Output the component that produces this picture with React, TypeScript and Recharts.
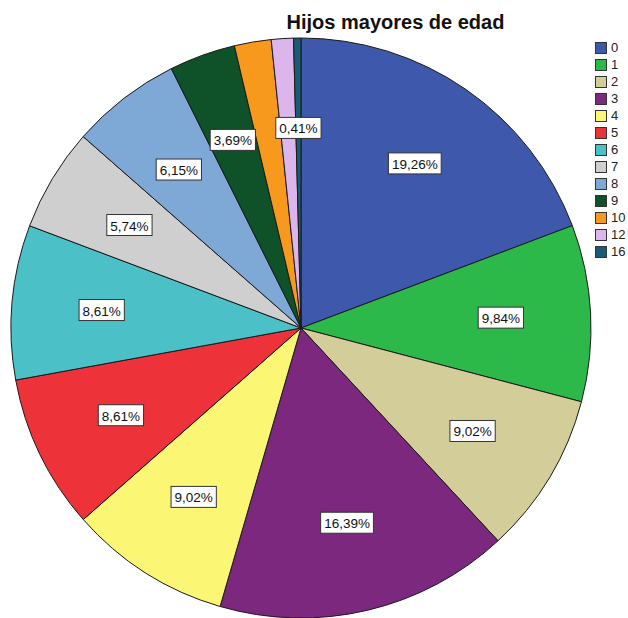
import { Legend, Pie, PieChart } from "recharts";

const categories = ["0", "1", "2", "3", "4", "5", "6", "7", "8", "9", "10", "12", "16"];
const percents = [19.26, 9.84, 9.02, 16.39, 9.02, 8.61, 8.61, 5.74, 6.15, 3.69, 2.05, 1.23, 0.41];
const colors = [
  "#3e58ac",
  "#2db94a",
  "#d3cd99",
  "#7b287e",
  "#fbf674",
  "#ee3239",
  "#4bc1c7",
  "#cfcfcf",
  "#7ea8d6",
  "#0f5128",
  "#f7991d",
  "#ddb5ed",
  "#1b5a74",
];
// SPSS left these two slices without a label
const unlabeled = ["10", "12"];

const RADIAN = Math.PI / 180;
const FONT = "Arial, 'Liberation Sans', sans-serif";

function formatPct(v: number): string {
  return v.toFixed(2).replace(".", ",") + "%";
}

function textWidth(s: string, fs: number): number {
  let w = 0;
  for (const ch of s) {
    if (ch === ",") w += 0.278 * fs;
    else if (ch === "%") w += 0.889 * fs;
    else w += 0.556 * fs;
  }
  return w;
}

function renderLabel(props: any) {
  const { cx, cy, midAngle, outerRadius, index } = props;
  if (unlabeled.includes(categories[index])) return null;
  const r = outerRadius * 0.69;
  const x = cx + r * Math.cos(-midAngle * RADIAN);
  const y = cy + r * Math.sin(-midAngle * RADIAN);
  const text = formatPct(percents[index]);
  const w = textWidth(text, 13.5) + 7;
  const h = 21;
  return (
    <g key={`lbl-${index}`}>
      <rect x={x - w / 2} y={y - h / 2} width={w} height={h} fill="#fff" stroke="#333" strokeWidth={1} />
      <text
        x={x}
        y={y + 1}
        textAnchor="middle"
        dominantBaseline="central"
        fontSize={13.5}
        fontFamily={FONT}
        fill="#111"
      >
        {text}
      </text>
    </g>
  );
}

function LegendBox() {
  return (
    <div style={{ fontFamily: FONT, fontSize: 13, color: "#222" }}>
      {categories.map((c, i) => (
        <div key={c} style={{ display: "flex", alignItems: "center", height: 17 }}>
          <span
            style={{
              display: "inline-block",
              width: 10,
              height: 10,
              background: colors[i],
              border: "1px solid #333",
              marginRight: 4,
            }}
          />
          <span>{c}</span>
        </div>
      ))}
    </div>
  );
}

export default function App() {
  const data = categories.map((c, i) => ({ name: c, value: percents[i], fill: colors[i] }));
  return (
    <div style={{ position: "absolute", left: 0, top: 0, width: 628, height: 618, background: "#fff" }}>
      <div
        style={{
          position: "absolute",
          left: 0,
          width: 791,
          top: 11,
          textAlign: "center",
          fontFamily: FONT,
          fontWeight: "bold",
          fontSize: 20,
          color: "#111",
          lineHeight: "23px",
        }}
      >
        Hijos mayores de edad
      </div>
      <PieChart width={628} height={618} margin={{ top: 0, right: 0, bottom: 0, left: 0 }}>
        <Pie
          data={data}
          dataKey="value"
          nameKey="name"
          cx={301}
          cy={328}
          outerRadius={290}
          startAngle={90}
          endAngle={-270}
          stroke="#1a1a1a"
          strokeWidth={1}
          label={renderLabel}
          labelLine={false}
          isAnimationActive={false}
        />
        <Legend
          layout="vertical"
          align="right"
          verticalAlign="top"
          content={<LegendBox />}
          wrapperStyle={{ left: 595, top: 39, width: 33 }}
        />
      </PieChart>
    </div>
  );
}
